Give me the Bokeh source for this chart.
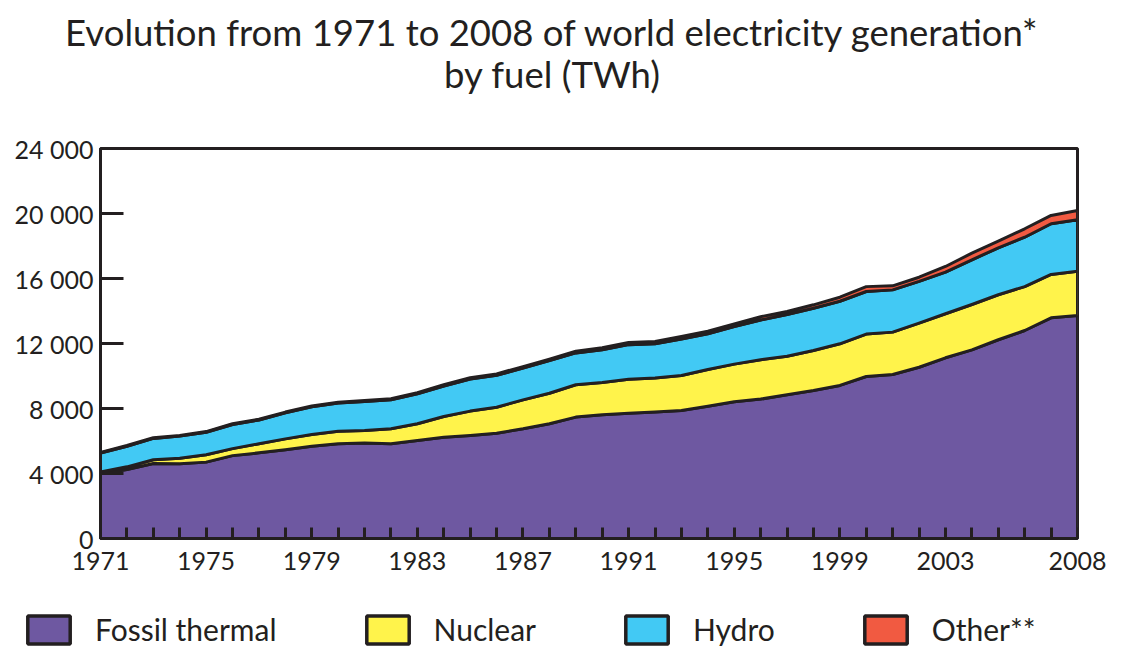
from bokeh.plotting import figure
from bokeh.models import Range1d, FixedTicker, Legend, LegendItem
from bokeh.layouts import column
from bokeh.core.properties import value
from bokeh.embed import file_html
from bokeh.resources import INLINE

years = list(range(1971, 2009))
fossil = [3980, 4250, 4620, 4600, 4700, 5100, 5270, 5460, 5680, 5830,
          5870, 5830, 6030, 6230, 6340, 6480, 6750, 7060, 7470, 7610,
          7710, 7790, 7880, 8140, 8410, 8580, 8840, 9110, 9420, 9970,
          10090, 10540, 11120, 11610, 12230, 12800, 13580, 13720]
nuclear = [110, 160, 230, 340, 450, 430, 560, 670, 720, 770,
           780, 920, 1030, 1280, 1500, 1600, 1780, 1880, 1990, 1990,
           2090, 2080, 2150, 2260, 2320, 2420, 2380, 2460, 2560, 2610,
           2610, 2710, 2710, 2790, 2770, 2700, 2670, 2730]
hydro = [1170, 1270, 1310, 1360, 1390, 1485, 1465, 1600, 1710, 1735,
         1780, 1785, 1840, 1875, 1970, 1965, 1960, 2005, 1960, 2020,
         2130, 2110, 2250, 2200, 2310, 2450, 2560, 2600, 2620, 2620,
         2600, 2570, 2560, 2750, 2890, 3040, 3120, 3160]
other = [40, 40, 40, 40, 40, 45, 45, 50, 50, 55,
         60, 65, 70, 75, 80, 85, 90, 95, 110, 120,
         130, 140, 150, 160, 170, 200, 190, 210, 250, 300,
         250, 260, 350, 410, 410, 520, 510, 570]

series_names = ["Fossil thermal", "Nuclear", "Hydro", "Other**"]
series_colors = ["#6e58a1", "#fff34b", "#42c9f4", "#f15a41"]
x_tick_labels = [1971, 1975, 1979, 1983, 1987, 1991, 1995, 1999, 2003, 2008]
y_ticks = [0, 4000, 8000, 12000, 16000, 20000, 24000]
y_tick_labels = ["0", "4 000", "8 000", "12 000", "16 000", "20 000", "24 000"]
title_lines = ["Evolution from 1971 to 2008 of world electricity generation*", "by fuel (TWh)"]

TXT = "#231f20"
FONT = "Lato"
W = 1116

# stacked layers (cumulative bottoms / tops)
layers = []
bottom = [0] * len(years)
for vals in [fossil, nuclear, hydro, other]:
    top = [b + v for b, v in zip(bottom, vals)]
    layers.append((years + years[::-1], top + bottom[::-1]))
    bottom = top

# ---- header with the two-line title ----
header = figure(width=W, height=130, output_backend="svg", toolbar_location=None,
                x_range=Range1d(0, W), y_range=Range1d(130, 0),
                x_axis_type=None, y_axis_type=None, min_border=0, frame_align=False)
header.outline_line_color = None
header.xgrid.visible = False
header.ygrid.visible = False
header.text(x=[552, 552], y=[31, 73], text=title_lines,
            text_align="center", text_baseline="middle",
            text_font=value(FONT), text_font_size="36.5px", text_color=TXT)

# ---- main chart ----
p = figure(width=W, height=468, output_backend="svg", toolbar_location=None,
           x_range=Range1d(1971, 2008), y_range=Range1d(0, 24000),
           frame_width=977, frame_height=390, frame_align=False,
           min_border_left=100, min_border_right=39, min_border_top=18, min_border_bottom=60)
p.background_fill_color = "white"
p.border_fill_color = "white"
p.outline_line_color = TXT
p.outline_line_width = 3
p.xgrid.visible = False
p.ygrid.visible = False

for (xs, ys), col in zip(layers, series_colors):
    p.patch(xs, ys, fill_color=col, line_color=TXT, line_width=3, line_join="round")

p.xaxis.ticker = FixedTicker(ticks=years)
p.xaxis.major_label_overrides = {y: (str(y) if y in x_tick_labels else "") for y in years}
p.xaxis.major_tick_in = 11
p.xaxis.major_tick_out = 0
p.xaxis.minor_tick_line_color = None
p.xaxis.major_tick_line_width = 3
p.xaxis.major_tick_line_color = TXT
p.xaxis.axis_line_width = 3
p.xaxis.axis_line_color = TXT
p.xaxis.major_label_text_font = FONT
p.xaxis.major_label_text_font_size = "25px"
p.xaxis.major_label_text_color = TXT
p.xaxis.major_label_standoff = 13

p.yaxis.ticker = FixedTicker(ticks=y_ticks)
p.yaxis.major_label_overrides = dict(zip(y_ticks, y_tick_labels))
p.yaxis.major_tick_in = 23
p.yaxis.major_tick_out = 0
p.yaxis.minor_tick_line_color = None
p.yaxis.major_tick_line_width = 3
p.yaxis.major_tick_line_color = TXT
p.yaxis.axis_line_width = 3
p.yaxis.axis_line_color = TXT
p.yaxis.major_label_text_font = FONT
p.yaxis.major_label_text_font_size = "25px"
p.yaxis.major_label_text_color = TXT
p.yaxis.major_label_standoff = 7

# ---- legend strip (proxy layers lie outside its visible range) ----
q = figure(width=W, height=62, output_backend="svg", toolbar_location=None,
           x_range=Range1d(0, 1), y_range=Range1d(0, 1),
           x_axis_type=None, y_axis_type=None, min_border=0, frame_align=False)
q.outline_line_color = None
q.xgrid.visible = False
q.ygrid.visible = False
items = []
for (xs, ys), name, col in zip(layers, series_names, series_colors):
    r = q.patch(xs, ys, fill_color=col, line_color=TXT, line_width=3.5)
    items.append(LegendItem(label=name, renderers=[r]))
legend = Legend(items=items, orientation="horizontal", location=(22, 13),
                glyph_width=53, glyph_height=35, label_standoff=20, spacing=84,
                label_text_font=FONT, label_text_font_size="30px", label_text_color=TXT,
                border_line_color=None, background_fill_alpha=0, padding=0, margin=0)
q.add_layout(legend, "center")

layout = column(header, p, q, spacing=0)
open("out.html", "w").write(file_html(layout, INLINE))
